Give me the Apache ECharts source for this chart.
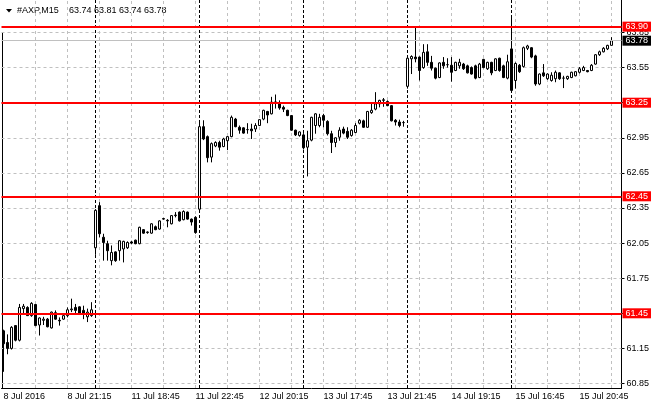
<!DOCTYPE html>
<html><head><meta charset="utf-8">
<script src="https://cdn.jsdelivr.net/npm/echarts@6/dist/echarts.min.js"></script>
<style>html,body{margin:0;padding:0;background:#fff}#c{width:660px;height:410px}</style>
</head><body><div id="c"></div>
<script>
const days = ['8 Jul', '11 Jul', '12 Jul', '13 Jul', '14 Jul', '15 Jul'];
const sessionTimes = ['16:30','16:45','17:00','17:15','17:30','17:45','18:00','18:15','18:30','18:45',
  '19:00','19:15','19:30','19:45','20:00','20:15','20:30','20:45','21:00','21:15','21:30','21:45',
  '22:00','22:15','22:30','22:45'];
const firstBarTime = '17:15';

// [open, close, low, high]
const jul08 = [
  [61.30,61.19,60.95,61.31],[61.20,61.15,61.10,61.27],[61.15,61.33,61.14,61.34],[61.345,61.22,61.21,61.35],
  [61.22,61.50,61.21,61.53],[61.49,61.51,61.44,61.53],[61.50,61.43,61.43,61.51],[61.43,61.535,61.42,61.545],
  [61.525,61.345,61.34,61.53],[61.35,61.41,61.26,61.415],[61.39,61.40,61.35,61.42],[61.40,61.335,61.33,61.41],
  [61.325,61.46,61.32,61.465],[61.455,61.40,61.395,61.475],[61.39,61.385,61.345,61.415],[61.40,61.43,61.395,61.445],
  [61.43,61.48,61.415,61.50],[61.48,61.487,61.46,61.575],[61.50,61.475,61.445,61.53],[61.505,61.445,61.44,61.51],
  [61.475,61.445,61.40,61.515],[61.42,61.46,61.375,61.49],[61.43,61.48,61.42,61.545]
];
const jul11 = [
  [62.01,62.33,61.95,62.34],[62.37,62.13,62.10,62.40],[62.10,62.055,61.90,62.13],[62.045,61.985,61.90,62.07],
  [61.90,61.97,61.86,62.03],[61.975,61.90,61.89,61.98],[61.985,62.07,61.90,62.075],[62.00,62.065,61.885,62.07],
  [62.01,62.055,62.00,62.065],[62.06,62.05,62.04,62.07],[62.075,62.045,62.04,62.08],[62.045,62.185,62.04,62.19],
  [62.165,62.135,62.13,62.17],[62.14,62.145,62.13,62.15],[62.135,62.215,62.13,62.22],[62.19,62.165,62.16,62.20],
  [62.17,62.24,62.165,62.245],[62.255,62.26,62.25,62.265],[62.245,62.24,62.185,62.255],[62.215,62.285,62.21,62.29],
  [62.285,62.29,62.27,62.315],[62.315,62.24,62.235,62.32],[62.25,62.32,62.245,62.33],[62.315,62.255,62.25,62.32],
  [62.255,62.23,62.20,62.26],[62.27,62.14,62.13,62.28]
];
const jul12 = [
  [62.34,63.045,62.33,63.10],[63.045,62.94,62.93,63.10],[62.96,62.78,62.74,62.97],[62.785,62.90,62.74,62.91],
  [62.88,62.91,62.87,62.92],[62.91,62.87,62.84,62.925],[62.875,62.94,62.87,62.95],[62.925,62.96,62.845,62.965],
  [62.96,63.125,62.955,63.14],[63.11,63.045,63.04,63.12],[63.04,63.015,62.985,63.055],[63.035,62.99,62.985,63.04],
  [63.02,63.02,62.985,63.075],[63.025,63.01,62.94,63.07],[63.025,63.055,63.00,63.075],[63.055,63.105,63.05,63.11],
  [63.11,63.185,63.10,63.19],[63.175,63.145,63.075,63.18],[63.155,63.255,63.15,63.30],[63.255,63.255,63.20,63.32],
  [63.24,63.205,63.19,63.27],[63.21,63.195,63.17,63.225],[63.185,63.14,63.135,63.19],[63.14,63.015,63.01,63.145],
  [63.015,62.975,62.965,63.02],[62.97,63.00,62.96,63.005]
];
const jul13 = [
  [62.975,62.865,62.85,62.99],[62.87,62.925,62.62,63.01],[62.93,63.125,62.92,63.13],[63.055,63.155,62.985,63.16],
  [63.055,63.125,63.04,63.155],[63.14,63.10,63.04,63.155],[63.09,62.985,62.97,63.10],[62.985,62.91,62.82,63.01],
  [62.91,62.95,62.87,62.955],[62.955,63.015,62.925,63.04],[63.025,62.99,62.98,63.045],[63.005,62.955,62.94,63.04],
  [62.97,63.015,62.96,63.025],[62.995,63.055,62.99,63.075],[63.075,63.10,63.065,63.11],[63.095,63.04,63.035,63.105],
  [63.04,63.175,63.035,63.18],[63.165,63.185,63.155,63.255],[63.195,63.24,63.185,63.34],[63.24,63.27,63.21,63.275],
  [63.27,63.275,63.215,63.29],[63.26,63.225,63.22,63.27],[63.225,63.095,63.09,63.23],[63.10,63.085,63.055,63.11],
  [63.085,63.055,63.04,63.105],[63.08,63.08,63.045,63.095]
];
const jul14 = [
  [63.39,63.63,63.37,63.65],[63.625,63.645,63.495,63.655],[63.64,63.625,63.595,63.895],[63.64,63.525,63.44,63.645],
  [63.55,63.68,63.54,63.75],[63.685,63.595,63.565,63.75],[63.595,63.545,63.525,63.65],[63.545,63.46,63.45,63.55],
  [63.465,63.59,63.46,63.595],[63.595,63.565,63.54,63.64],[63.575,63.575,63.55,63.63],[63.57,63.51,63.43,63.64],
  [63.525,63.595,63.52,63.60],[63.565,63.595,63.54,63.625],[63.58,63.54,63.53,63.59],[63.565,63.505,63.50,63.575],
  [63.55,63.495,63.49,63.56],[63.565,63.46,63.45,63.575],[63.465,63.58,63.46,63.59],[63.62,63.55,63.545,63.625],
  [63.54,63.595,63.53,63.60],[63.595,63.505,63.485,63.60],[63.525,63.625,63.52,63.63],[63.63,63.525,63.515,63.635],
  [63.565,63.465,63.46,63.575],[63.46,63.60,63.45,63.66]
];
const jul15 = [
  [63.71,63.355,63.34,63.995],[63.44,63.585,63.37,63.595],[63.57,63.515,63.505,63.58],[63.56,63.72,63.55,63.73],
  [63.715,63.735,63.70,63.745],[63.72,63.64,63.63,63.725],[63.65,63.41,63.395,63.66],[63.41,63.495,63.40,63.50],
  [63.505,63.48,63.47,63.58],[63.455,63.495,63.445,63.50],[63.44,63.485,63.43,63.51],[63.455,63.51,63.425,63.525],
  [63.505,63.455,63.445,63.51],[63.46,63.46,63.375,63.48],[63.455,63.475,63.445,63.48],[63.465,63.51,63.46,63.515],
  [63.48,63.515,63.475,63.52],[63.51,63.54,63.50,63.555],[63.525,63.55,63.52,63.565],[63.525,63.515,63.51,63.53],
  [63.525,63.57,63.52,63.58],[63.58,63.66,63.575,63.665],[63.66,63.685,63.65,63.695],[63.685,63.715,63.68,63.725],
  [63.71,63.74,63.70,63.745],[63.74,63.78,63.74,63.81]
];

const yTickLabels = ['60.85','61.15','61.45','61.75','62.05','62.35','62.65','62.95','63.25','63.55','63.85'];
const xTickTimes = ['8 Jul 17:15','8 Jul 21:15','11 Jul 18:45','11 Jul 22:45','12 Jul 20:15',
  '13 Jul 17:45','13 Jul 21:45','14 Jul 19:15','15 Jul 16:45','15 Jul 20:45'];
const xTickLabels = ['8 Jul 2016','8 Jul 21:15','11 Jul 18:45','11 Jul 22:45','12 Jul 20:15',
  '13 Jul 17:45','13 Jul 21:45','14 Jul 19:15','15 Jul 16:45','15 Jul 20:45'];
const levelLabels = ['63.90','63.25','62.45','61.45'];
const lastPriceLabel = '63.78';
const headerSymbol = '#AXP,M15';
const headerOHLC = '63.74 63.81 63.74 63.78';

// ---- build ----
const categories = [];
days.forEach((d, k) => {
  const times = k === 0 ? sessionTimes.slice(sessionTimes.indexOf(firstBarTime)) : sessionTimes;
  times.forEach(t => categories.push(d + ' ' + t));
});
const padCats = ['pad-1', 'pad-2'];
const candles = [].concat(jul08, jul11, jul12, jul13, jul14, jul15);
const yTicks = yTickLabels.map(parseFloat);
const labelMap = {};
xTickTimes.forEach((t, i) => { labelMap[t] = xTickLabels[i]; });
const isTick = (i, v) => Object.prototype.hasOwnProperty.call(labelMap, v);

const FONT = "'Liberation Sans', Arial, sans-serif";
const gridTop = 0, gridBottomPx = 388;
const yMin = 60.85 - (gridBottomPx - 383.5) / 117;
const yMax = 60.85 + (383.5 - gridTop) / 117;

const gridLines = [];
yTicks.forEach(v => gridLines.push({ yAxis: v, lineStyle: { color: '#c0c0c0', type: [3, 3], width: 1 } }));
categories.forEach((c, i) => {
  if (i > 0 && i % 8 === 0) gridLines.push({ xAxis: c, lineStyle: { color: '#c0c0c0', type: [3, 3], width: 1 } });
});
days.slice(1).forEach(d => {
  gridLines.push({ xAxis: d + ' ' + sessionTimes[0], lineStyle: { color: '#000', type: [3, 2], width: 1 } });
});

const levelLines = levelLabels.map(s => ({
  yAxis: parseFloat(s),
  lineStyle: { color: '#ff0000', width: 2, type: 'solid' },
  label: { show: true, position: 'end', formatter: s, color: '#fff', backgroundColor: '#ff0000',
    padding: [1, 3, 0, 3], fontSize: 9, fontFamily: FONT, distance: 1, lineHeight: 9 }
}));
levelLines.unshift({
  yAxis: parseFloat(lastPriceLabel),
  lineStyle: { color: '#c0c0c0', width: 1, type: 'solid' },
  label: { show: true, position: 'end', formatter: lastPriceLabel, color: '#fff', backgroundColor: '#000',
    padding: [1, 3, 0, 3], fontSize: 9, fontFamily: FONT, distance: 1, lineHeight: 9 }
});

const chart = echarts.init(document.getElementById('c'), null, { renderer: 'canvas' });
chart.setOption({
  animation: false,
  backgroundColor: '#fff',
  grid: { left: 1.5, right: 38.5, top: gridTop, bottom: 410 - gridBottomPx, containLabel: false },
  xAxis: {
    type: 'category', data: categories.concat(padCats), boundaryGap: true,
    axisLine: { onZero: false, lineStyle: { color: '#000', width: 1 } },
    axisTick: { alignWithLabel: true, interval: isTick, length: 4, lineStyle: { color: '#000' } },
    axisLabel: { interval: isTick, formatter: v => labelMap[v] || '', align: 'left', color: '#000',
      fontSize: 9, fontFamily: FONT, margin: 4 },
    splitLine: { show: false }
  },
  yAxis: {
    type: 'value', position: 'right', min: yMin, max: yMax,
    axisLine: { show: true, onZero: false, lineStyle: { color: '#000', width: 1 } },
    axisTick: { show: true, customValues: yTicks, length: 3, lineStyle: { color: '#000' } },
    axisLabel: { customValues: yTicks, formatter: v => v.toFixed(2), color: '#000', fontSize: 9,
      fontFamily: FONT, margin: 5 },
    splitLine: { show: false }
  },
  graphic: [
    { type: 'line', shape: { x1: 2.5, y1: 32, x2: 2.5, y2: 388 }, style: { stroke: '#000', lineWidth: 1 } },
    { type: 'polygon', shape: { points: [[6, 9], [12, 9], [9, 12.5]] }, style: { fill: '#000' } },
    { type: 'text', x: 17, y: 6, style: { text: headerSymbol, font: '9px ' + FONT, fill: '#000' } },
    { type: 'text', x: 69, y: 6, style: { text: headerOHLC, font: '9px ' + FONT, fill: '#000' } }
  ],
  series: [
    {
      type: 'line', data: [], silent: true,
      markLine: { z: 1, silent: true, symbol: ['none', 'none'], label: { show: false }, animation: false, data: gridLines }
    },
    {
      type: 'candlestick', data: candles, barWidth: 2, z: 2,
      itemStyle: { color: '#ffffff', color0: '#000000', borderColor: '#000000', borderColor0: '#000000',
        borderColorDoji: '#000000', borderWidth: 1 }
    },
    {
      type: 'line', data: [], silent: true,
      markLine: { z: 5, silent: true, symbol: ['none', 'none'], animation: false, data: levelLines }
    }
  ]
});
</script>
</body></html>
